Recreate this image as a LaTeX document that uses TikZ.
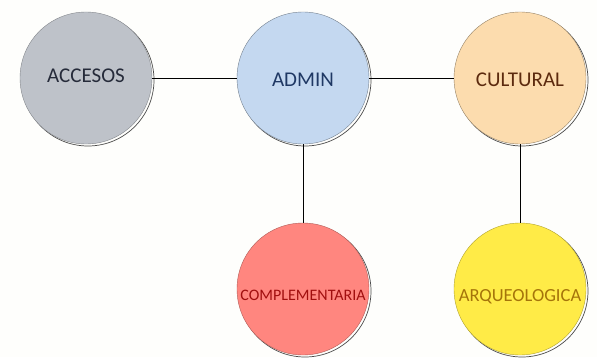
\documentclass[tikz,border=0pt]{standalone}
\usepackage{fontspec}
\setmainfont{Carlito}
\usetikzlibrary{positioning, shadows}
\definecolor{accesosgray}{HTML}{BEC2C9}
\definecolor{accesostext}{HTML}{262B3A}
\definecolor{adminblue}{HTML}{C4D8F0}
\definecolor{admintext}{HTML}{1F3864}
\definecolor{culturalpeach}{HTML}{FCDCAE}
\definecolor{culturaltext}{HTML}{5C2A0E}
\definecolor{complred}{HTML}{FF867F}
\definecolor{compltext}{HTML}{A10F0F}
\definecolor{arqyellow}{HTML}{FFEB47}
\definecolor{arqtext}{HTML}{A5740A}
\definecolor{pagebg}{HTML}{FEFEFC}

\begin{document}
\begin{tikzpicture}[
  x=1pt, y=1pt,
  area/.style={circle, minimum size=132pt, inner sep=0pt, align=center, line width=0.4pt,
    drop shadow={shadow xshift=2pt, shadow yshift=-2pt, fill=none, draw=black!70, line width=0.7pt, opacity=1}},
  link/.style={line width=0.7pt, black}
]
\fill[pagebg] (0,0) rectangle (597,357);
\useasboundingbox (0,0) rectangle (597,357);

\node[area, fill=accesosgray, draw=accesosgray!70!black, text=accesostext, font=\fontsize{21}{24}\selectfont] (acc) at (86,279) {\raisebox{-4pt}[0pt][0pt]{ACCESOS}};
\node[area, fill=adminblue, draw=adminblue!60!black, text=admintext, font=\fontsize{21}{24}\selectfont] (admin) at (303,279) {\raisebox{-8pt}[0pt][0pt]{ADMIN}};
\node[area, fill=culturalpeach, draw=culturalpeach!60!black, text=culturaltext, font=\fontsize{21}{24}\selectfont] (cult) at (520,279) {\raisebox{-8pt}[0pt][0pt]{CULTURAL}};

\node[area, fill=complred, draw=complred!70!black, text=compltext, font=\fontsize{16}{19}\selectfont] (comp) at (303,68) {\raisebox{-11pt}[0pt][0pt]{COMPLEMENTARIA}};
\node[area, fill=arqyellow, draw=arqyellow!70!black, text=arqtext, font=\fontsize{18.5}{22}\selectfont] (arq) at (520,68) {\raisebox{-12pt}[0pt][0pt]{ARQUEOLOGICA}};

\draw[link] (acc) -- (admin);
\draw[link] (admin) -- (cult);
\draw[link] (admin) -- (comp);
\draw[link] (cult) -- (arq);
\end{tikzpicture}
\end{document}
